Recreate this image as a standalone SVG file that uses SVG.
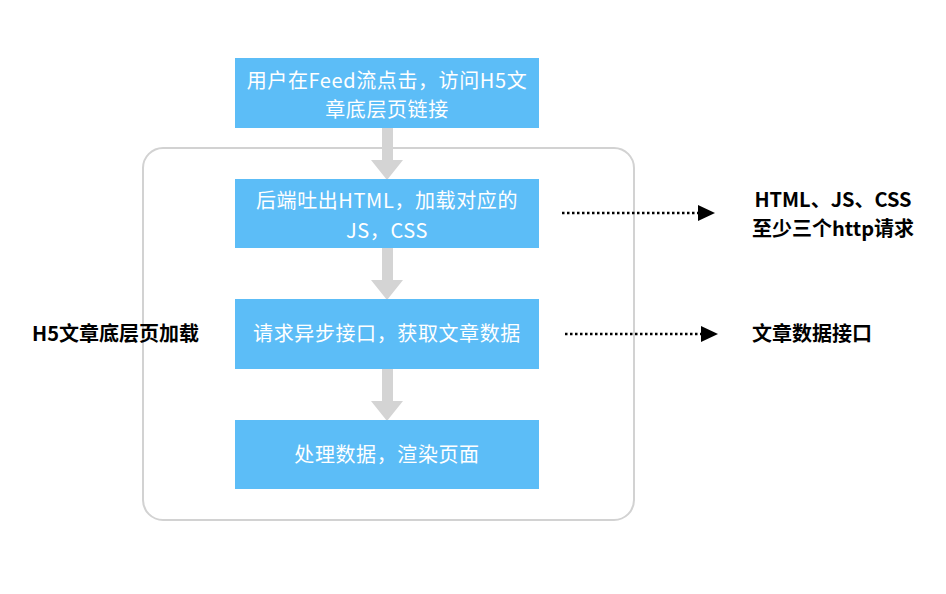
<svg xmlns="http://www.w3.org/2000/svg" width="946" height="594" viewBox="0 0 946 594">
<defs>
<style>
.box{fill:#5cbdf7;}
.bt{fill:#fff;font-family:"Noto Sans CJK SC","Liberation Sans",sans-serif;font-size:20px;letter-spacing:0.6px;text-anchor:middle;}
.lt{fill:#000;font-family:"Noto Sans CJK SC","Liberation Sans",sans-serif;font-size:20px;font-weight:bold;}
.ga{fill:#d4d4d4;}
.dot{stroke:#000;stroke-width:2.5;stroke-dasharray:2.5 2.5;fill:none;}
</style>
</defs>
<rect x="0" y="0" width="946" height="594" fill="#fff"/>
<g id="container">
<rect x="143" y="148" width="491" height="372" rx="20" fill="none" stroke="#d2d2d2" stroke-width="2"/>
</g>
<g id="label-left"><text class="lt" x="32" y="341">H5文章底层页加载</text></g>
<g id="connectors">
<path class="ga" d="M382 128h11v32h10l-16 20l-16 -20h11z"/>
<path class="ga" d="M382 248h11v32h10l-16 20l-16 -20h11z"/>
<path class="ga" d="M382 369h11v32h10l-16 20l-16 -20h11z"/>
<line class="dot" x1="562" y1="213" x2="698" y2="213"/>
<path d="M698 205l17 8l-17 8z" fill="#000"/>
<line class="dot" x1="565" y1="334" x2="701" y2="334"/>
<path d="M701 326l17 8l-17 8z" fill="#000"/>
</g>
<g id="n1"><rect class="box" x="235" y="58" width="304" height="70"/>
<text class="bt" x="387" y="88">用户在Feed流点击，访问H5文</text>
<text class="bt" x="387" y="117">章底层页链接</text></g>
<g id="n2"><rect class="box" x="235" y="179" width="304" height="69"/>
<text class="bt" x="387" y="208">后端吐出HTML，加载对应的</text>
<text class="bt" x="387" y="238">JS，CSS</text></g>
<g id="n3"><rect class="box" x="235" y="299" width="304" height="70"/>
<text class="bt" x="387" y="341">请求异步接口，获取文章数据</text></g>
<g id="n4"><rect class="box" x="235" y="420" width="304" height="69"/>
<text class="bt" x="387" y="462">处理数据，渲染页面</text></g>
<g id="r1"><text class="lt" x="833" y="207" text-anchor="middle">HTML、JS、CSS</text>
<text class="lt" x="833" y="236" text-anchor="middle">至少三个http请求</text></g>
<g id="r2"><text class="lt" x="752" y="341">文章数据接口</text></g>
</svg>
